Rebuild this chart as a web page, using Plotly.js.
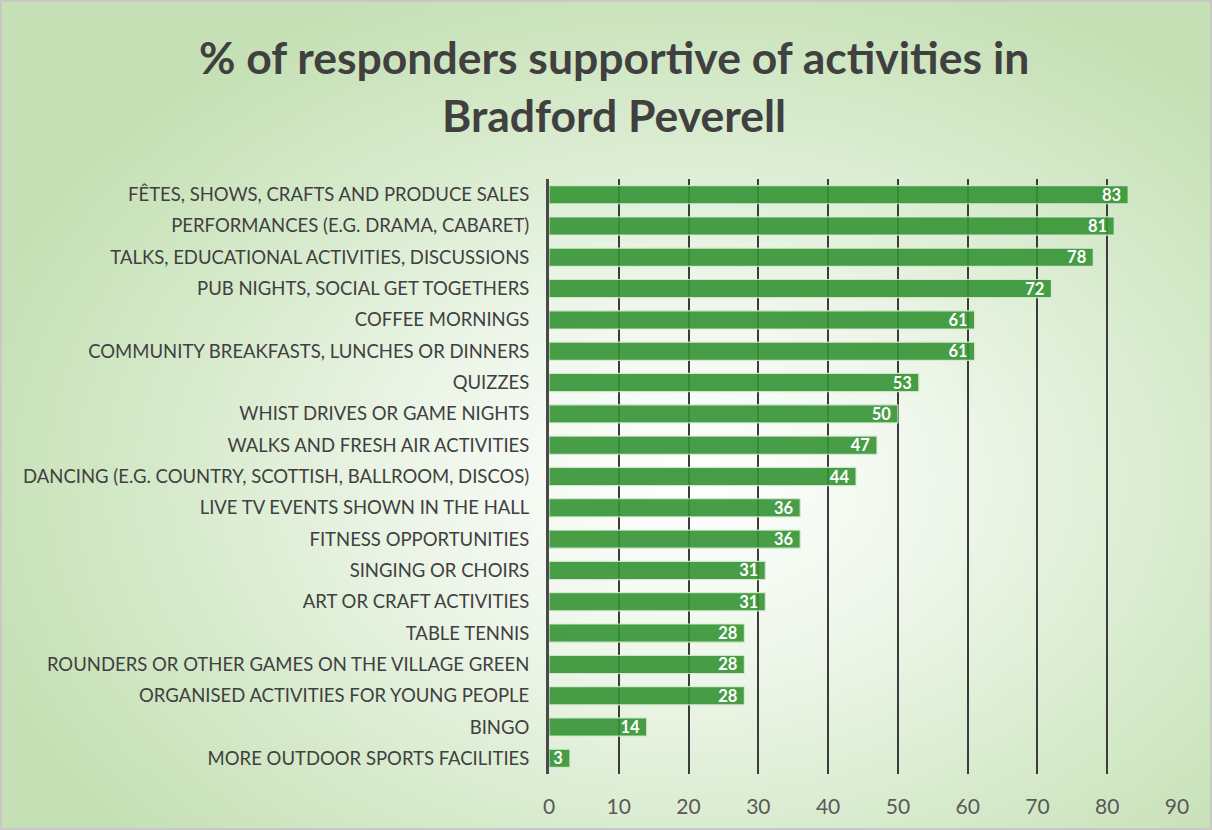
<!DOCTYPE html>
<html>
<head>
<meta charset="utf-8">
<script src="https://cdn.plot.ly/plotly-3.0.1.min.js"></script>
<style>
html,body{margin:0;padding:0;background:#fff;}
#chart{width:1212px;height:830px;box-sizing:border-box;border:2px solid #c8c8c8;
background:radial-gradient(ellipse 62% 65% at 57% 58%, #ffffff 0%, #eef6ea 35%, #d6eacb 70%, #c5e0b4 100%);}
</style>
</head>
<body>
<div id="chart"></div>
<script>
const categories = [
  "FÊTES, SHOWS, CRAFTS AND PRODUCE SALES",
  "PERFORMANCES (E.G. DRAMA, CABARET)",
  "TALKS, EDUCATIONAL ACTIVITIES, DISCUSSIONS",
  "PUB NIGHTS, SOCIAL GET TOGETHERS",
  "COFFEE MORNINGS",
  "COMMUNITY BREAKFASTS, LUNCHES OR DINNERS",
  "QUIZZES",
  "WHIST DRIVES OR GAME NIGHTS",
  "WALKS AND FRESH AIR ACTIVITIES",
  "DANCING (E.G. COUNTRY, SCOTTISH, BALLROOM, DISCOS)",
  "LIVE TV EVENTS SHOWN IN THE HALL",
  "FITNESS OPPORTUNITIES",
  "SINGING OR CHOIRS",
  "ART OR CRAFT ACTIVITIES",
  "TABLE TENNIS",
  "ROUNDERS OR OTHER GAMES ON THE VILLAGE GREEN",
  "ORGANISED ACTIVITIES FOR YOUNG PEOPLE",
  "BINGO",
  "MORE OUTDOOR SPORTS FACILITIES"
];
const values = [83, 81, 78, 72, 61, 61, 53, 50, 47, 44, 36, 36, 31, 31, 28, 28, 28, 14, 3];
const xTicks = [0, 10, 20, 30, 40, 50, 60, 70, 80, 90];
const titleText = '<b>% of responders supportive of activities in<br>Bradford Peverell</b>';

const font = "Lato, 'Open Sans', sans-serif";

const trace = {
  type: 'bar',
  orientation: 'h',
  x: values,
  y: categories,
  text: values.map(v => String(v) + '\u00a0'),
  textposition: 'inside',
  insidetextanchor: 'end',
  textangle: 0,
  constraintext: 'none',
  textfont: {color: '#ffffff', size: 16.5, family: font, weight: 'bold'},
  marker: {color: 'rgba(52,148,52,0.9)', line: {color: 'rgba(215,235,210,0.9)', width: 1.2}},
  hoverinfo: 'none'
};

const layout = {
  width: 1212,
  height: 830,
  paper_bgcolor: 'rgba(0,0,0,0)',
  plot_bgcolor: 'rgba(0,0,0,0)',
  margin: {l: 547, r: 37, t: 177, b: 58},
  bargap: 0.42,
  showlegend: false,
  annotations: [{
    text: titleText,
    xref: 'paper', yref: 'paper',
    x: 0.1035, y: 1.157,
    xanchor: 'center', yanchor: 'middle',
    showarrow: false,
    font: {family: font, size: 44.5, color: '#404040'}
  }],
  xaxis: {
    range: [0, 90],
    tickvals: xTicks,
    ticktext: xTicks.map(String),
    showgrid: true,
    gridcolor: '#3c3c3c',
    gridwidth: 2,
    zeroline: false,
    showline: false,
    ticks: '',
    ticklabelstandoff: 18,
    tickfont: {family: font, size: 21, color: '#595959'}
  },
  yaxis: {
    autorange: 'reversed',
    type: 'category',
    showgrid: false,
    zeroline: false,
    showline: true,
    linecolor: '#4a4a4a',
    linewidth: 3,
    ticks: '',
    ticklabelstandoff: 13,
    tickfont: {family: font, size: 18.5, color: '#404040'}
  }
};

Plotly.newPlot('chart', [trace], layout, {displayModeBar: false, staticPlot: true});
</script>
</body>
</html>
